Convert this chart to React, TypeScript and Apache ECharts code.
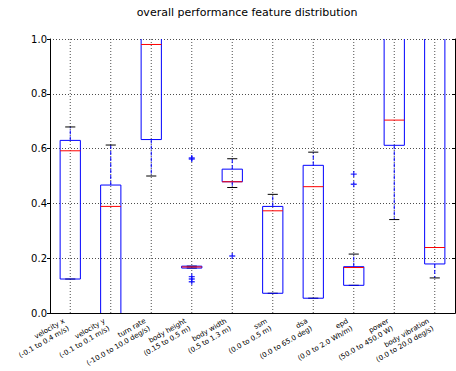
import React, { useEffect, useRef } from "react";
import * as echarts from "echarts";

const labelLine1 = [
  "velocity x", "velocity y", "turn rate", "body height", "body width",
  "ssm", "dsa", "epd", "power", "body vibration",
];
const labelLine2 = [
  "(-0.1 to 0.4 m/s)", "(-0.1 to 0.1 m/s)", "(-10.0 to 10.0 deg/s)", "(0.15 to 0.5 m)",
  "(0.5 to 1.3 m)", "(0.0 to 0.5 m)", "(0.0 to 65.0 deg)", "(0.0 to 2.0 Wh/m)",
  "(50.0 to 450.0 W)", "(0.0 to 20.0 deg/s)",
];
const whiskerLow = [0.124, 0.0, 0.5, 0.164, 0.458, 0.072, 0.054, 0.101, 0.341, 0.128];
const quart1 = [0.124, 0.0, 0.633, 0.164, 0.479, 0.072, 0.054, 0.101, 0.612, 0.179];
const medians = [0.592, 0.389, 0.98, 0.168, 0.479, 0.373, 0.461, 0.166, 0.704, 0.239];
const quart3 = [0.63, 0.467, 1.0, 0.171, 0.525, 0.389, 0.539, 0.169, 1.0, 1.0];
const whiskerHigh = [0.679, 0.613, 1.0, 0.171, 0.563, 0.433, 0.587, 0.215, 1.0, 1.0];
const outlierCat = [3, 3, 3, 3, 3, 4, 7, 7];
const outlierVal = [0.562, 0.566, 0.133, 0.124, 0.114, 0.208, 0.507, 0.47];
const yTicks = ["0.0", "0.2", "0.4", "0.6", "0.8", "1.0"];

const FONT = "DejaVu Sans";

export default function App() {
  const ref = useRef<HTMLDivElement>(null);
  useEffect(() => {
    if (!ref.current) return;
    const chart = echarts.init(ref.current, undefined, { renderer: "svg" });
    const boxData = labelLine1.map((_, i) => [
      i, whiskerLow[i], quart1[i], medians[i], quart3[i], whiskerHigh[i],
    ]);
    const outliers = outlierCat.map((c, i) => [c, outlierVal[i]]);

    const renderItem = (params: any, api: any) => {
      const idx = api.value(0);
      const lo = api.value(1), q1 = api.value(2), md = api.value(3), q3 = api.value(4), hi = api.value(5);
      const band = api.size([1, 0])[0];
      const half = band * 0.25;
      const capHalf = band * 0.125;
      const P = (v: number) => api.coord([idx, v]);
      const cx = P(0)[0];
      const y0 = P(0)[1], y1 = P(1)[1];
      const yLo = P(lo)[1], yQ1 = P(q1)[1], yMd = P(md)[1], yQ3 = P(q3)[1], yHi = P(hi)[1];
      const blue = { stroke: "#0000ff", lineWidth: 1 };
      const kids: any[] = [
        { type: "line", shape: { x1: cx, y1: y0, x2: cx, y2: y1 }, style: { stroke: "#000", lineWidth: 0.7, lineDash: [1, 2] } },
        { type: "line", shape: { x1: cx, y1: yQ3, x2: cx, y2: yHi }, style: { ...blue, lineDash: [4, 2] } },
        { type: "line", shape: { x1: cx, y1: yQ1, x2: cx, y2: yLo }, style: { ...blue, lineDash: [4, 2] } },
      ];
      if (yHi > y1 + 0.5) kids.push({ type: "line", shape: { x1: cx - capHalf, y1: yHi, x2: cx + capHalf, y2: yHi }, style: { stroke: "#000", lineWidth: 1 } });
      if (yLo < y0 - 0.5) kids.push({ type: "line", shape: { x1: cx - capHalf, y1: yLo, x2: cx + capHalf, y2: yLo }, style: { stroke: "#000", lineWidth: 1 } });
      kids.push({ type: "line", shape: { x1: cx - half, y1: yQ3, x2: cx - half, y2: yQ1 }, style: blue });
      kids.push({ type: "line", shape: { x1: cx + half, y1: yQ3, x2: cx + half, y2: yQ1 }, style: blue });
      if (yQ3 > y1 + 0.5) kids.push({ type: "line", shape: { x1: cx - half, y1: yQ3, x2: cx + half, y2: yQ3 }, style: blue });
      if (yQ1 < y0 - 0.5) kids.push({ type: "line", shape: { x1: cx - half, y1: yQ1, x2: cx + half, y2: yQ1 }, style: blue });
      kids.push({ type: "line", shape: { x1: cx - half, y1: yMd, x2: cx + half, y2: yMd }, style: { stroke: "#ff0000", lineWidth: 1 } });
      return { type: "group", children: kids };
    };

    const baseX = {
      type: "category" as const,
      data: labelLine1,
      boundaryGap: true,
      gridIndex: 0,
    };

    chart.setOption({
      animation: false,
      backgroundColor: "#fff",
      title: {
        text: "overall performance feature distribution",
        left: 247,
        top: 7,
        padding: 0,
        textAlign: "center",
        textStyle: { fontFamily: FONT, fontSize: 11, fontWeight: "normal", color: "#000" },
      },
      grid: { left: 50, top: 39, width: 405, height: 274, containLabel: false },
      xAxis: [
        {
          ...baseX,
          position: "bottom",
          z: 10,
          axisLine: { show: true, lineStyle: { color: "#000", width: 1 } },
          axisTick: { show: false },
          splitLine: { show: false },
          axisLabel: { interval: 0, rotate: 30, margin: 4, padding: [0, 7, 0, 0], fontFamily: FONT, fontSize: 7, color: "#000" },
        },
        {
          ...baseX,
          data: labelLine2,
          position: "bottom",
          offset: 0,
          axisLine: { show: false },
          axisTick: { show: false },
          splitLine: { show: false },
          axisLabel: { interval: 0, rotate: 30, margin: 14, padding: [0, 2, 0, 0], fontFamily: FONT, fontSize: 7, color: "#000" },
        },
        {
          ...baseX,
          position: "top",
          z: 10,
          axisLine: { show: true, lineStyle: { color: "#000", width: 1 } },
          axisTick: { show: false },
          axisLabel: { show: false },
          splitLine: { show: false },
        },
      ],
      yAxis: [
        {
          type: "value",
          min: 0,
          max: 1,
          interval: 0.2,
          position: "left",
          axisLine: { show: false },
          axisTick: { show: true, inside: false, length: 3, lineStyle: { color: "#000" } },
          axisLabel: {
            margin: 3,
            fontFamily: FONT,
            fontSize: 10,
            color: "#000",
            formatter: (v: number) => yTicks[Math.round(v / 0.2)] ?? "",
          },
          splitLine: { show: true, lineStyle: { color: "#000", width: 0.7, type: [1, 2] } },
        },
        {
          type: "value",
          min: 0,
          max: 1,
          interval: 0.2,
          position: "left",
          offset: 0,
          z: 10,
          axisLine: { show: true, lineStyle: { color: "#000", width: 1 } },
          axisTick: { show: false },
          axisLabel: { show: false },
          splitLine: { show: false },
        },
        {
          type: "value",
          min: 0,
          max: 1,
          interval: 0.2,
          position: "right",
          z: 10,
          axisLine: { show: true, lineStyle: { color: "#000", width: 1 } },
          axisTick: { show: true, inside: true, length: 3, lineStyle: { color: "#000" } },
          axisLabel: { show: false },
          splitLine: { show: false },
        },
      ],
      series: [
        {
          type: "custom",
          xAxisIndex: 0,
          yAxisIndex: 0,
          renderItem,
          data: boxData,
          encode: { x: 0, y: [1, 2, 3, 4, 5] },
          z: 2,
          silent: true,
        },
        {
          type: "scatter",
          xAxisIndex: 0,
          yAxisIndex: 0,
          data: outliers,
          symbol: "path://M0,3.9H10V6.1H0Z M3.9,0H6.1V10H3.9Z",
          symbolSize: 6,
          itemStyle: { color: "#0000ff" },
          z: 3,
          silent: true,
        },
      ],
    });
    return () => chart.dispose();
  }, []);
  return (
    <div
      ref={ref}
      style={{ position: "fixed", left: 0, top: 0, width: 456, height: 371, background: "#fff" }}
    />
  );
}
